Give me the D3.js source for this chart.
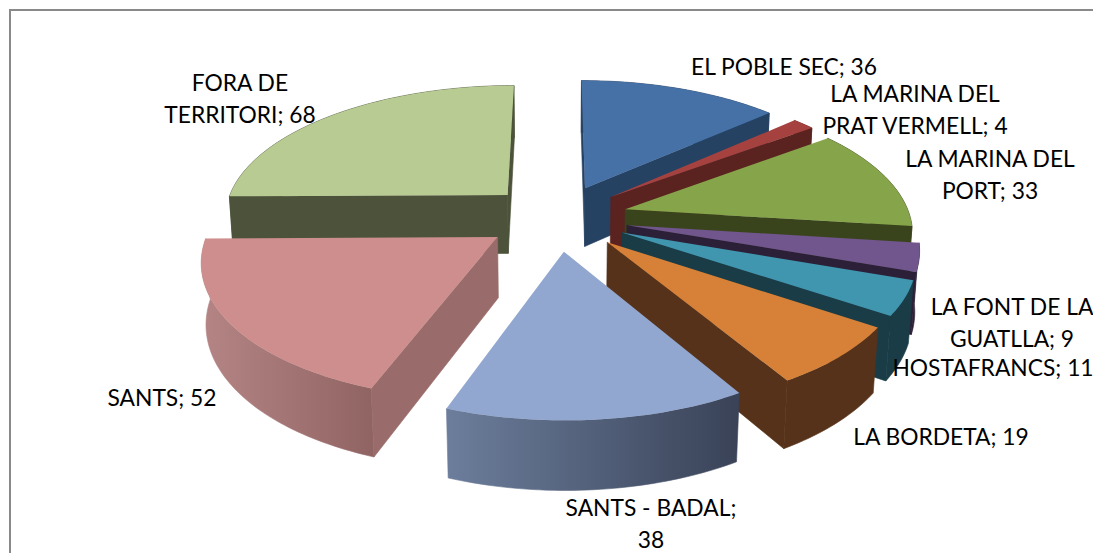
<!DOCTYPE html>
<html><head><meta charset="utf-8">
<script src="https://cdn.jsdelivr.net/npm/d3@7/dist/d3.min.js"></script>
<style>html,body{margin:0;padding:0;background:#fff;overflow:hidden}svg{display:block}</style>
</head><body><svg id="c" width="1093" height="553"></svg>
<script>
const categories = ["EL POBLE SEC","LA MARINA DEL PRAT VERMELL","LA MARINA DEL PORT","LA FONT DE LA GUATLLA","HOSTAFRANCS","LA BORDETA","SANTS - BADAL","SANTS","FORA DE TERRITORI"];
const values = [36,4,33,9,11,19,38,52,68];
const topColors = ["#4571A6","#A5423F","#86A44A","#71558D","#3F96AE","#D78037","#92A7CF","#CE8E8D","#B8CB93"];
const wallColors = ["#264263","#5A2320","#3A441C","#2C2038","#1A3C46","#56321A","#3A4358","#996B6A","#4C533A"];
const arcLeftColors = ["#264263","#5A2320","#3A441C","#2C2038","#1A3C46","#56321A","#6C7E9C","#B58585","#4C533A"];
const arcRightColors = ["#264263","#5A2320","#3A441C","#2C2038","#1A3C46","#56321A","#394257","#916464","#4C533A"];
const labelWrapAfter = [0,3,3,4,0,0,3,0,2];
const labelX = [784,915,990,1012,993,941,651,162,240];
const labelY = [75,102,167,315,376,445,516,406,91];

// camera
const cam = {vx:557, cy:217.5, s:285, t:132, h:60.5, p:0.15, q:0.013, explode:0.25};
function project(x, y, d){
  const w = 1 + cam.p*y + cam.q*d;
  return [cam.vx + cam.s*x/w, cam.cy + (-cam.t*y + cam.h*d)/w];
}
const svg = d3.select("#c");
const defs = svg.append("defs");
svg.append("path").attr("d","M10 553V10H1093").attr("fill","none").attr("stroke","#898989").attr("stroke-width",2);

const pie = d3.pie().sort(null).startAngle(0).endAngle(2*Math.PI);
const arcs = pie(values).map((a,i)=>({...a,i,mid:(a.startAngle+a.endAngle)/2}));
const line = d3.line();
const order = arcs.slice().sort((a,b)=>d3.descending(Math.cos(a.mid),Math.cos(b.mid)));
const area = pts => d3.polygonArea(pts);

order.forEach(a=>{
  const g = svg.append("g").attr("class","slice");
  const ox = cam.explode*Math.sin(a.mid), oy = cam.explode*Math.cos(a.mid);
  const rim = (ang,d)=>project(ox+Math.sin(ang),oy+Math.cos(ang),d);
  const apex = d=>project(ox,oy,d);
  const n = Math.max(4,Math.ceil((a.endAngle-a.startAngle)/0.02));
  const angs = d3.range(n+1).map(k=>a.startAngle+(a.endAngle-a.startAngle)*k/n);
  const topRim = angs.map(t=>rim(t,0)), botRim = angs.map(t=>rim(t,1));
  // outer wall
  const xs = topRim.map(p=>p[0]);
  const gid = "arc"+a.i;
  const gr = defs.append("linearGradient").attr("id",gid).attr("gradientUnits","userSpaceOnUse")
    .attr("x1",d3.min(xs)).attr("x2",d3.max(xs)).attr("y1",0).attr("y2",0);
  gr.append("stop").attr("offset",0).attr("stop-color",arcLeftColors[a.i]);
  gr.append("stop").attr("offset",1).attr("stop-color",arcRightColors[a.i]);
  g.append("path").attr("d",line(topRim.concat(botRim.slice().reverse()))+"Z")
    .attr("fill",`url(#${gid})`).attr("stroke",`url(#${gid})`).attr("stroke-width",0.6);
  // radial walls (only those facing the viewer)
  const endQ = [apex(0),rim(a.endAngle,0),rim(a.endAngle,1),apex(1)];
  const startQ = [rim(a.startAngle,0),apex(0),apex(1),rim(a.startAngle,1)];
  [startQ,endQ].forEach(q=>{
    if(area(q)<0) g.append("path").attr("d",line(q)+"Z").attr("fill",wallColors[a.i])
      .attr("stroke",wallColors[a.i]).attr("stroke-width",0.6);
  });
  // top face
  g.append("path").attr("d",line([apex(0)].concat(topRim))+"Z").attr("fill",topColors[a.i]);
});

// labels
const lineH = 32;
categories.forEach((c,i)=>{
  const words = `${c}; ${values[i]}`.split(" ");
  const k = labelWrapAfter[i];
  const lines = k? [words.slice(0,k).join(" "),words.slice(k).join(" ")] : [words.join(" ")];
  const t = svg.append("text").attr("text-anchor","middle").attr("font-family","Lato, Carlito, sans-serif")
    .attr("font-size",22.8).attr("fill","#000");
  lines.forEach((l,j)=>t.append("tspan").attr("x",labelX[i]).attr("y",labelY[i]+j*lineH).text(l));
});
</script></body></html>
